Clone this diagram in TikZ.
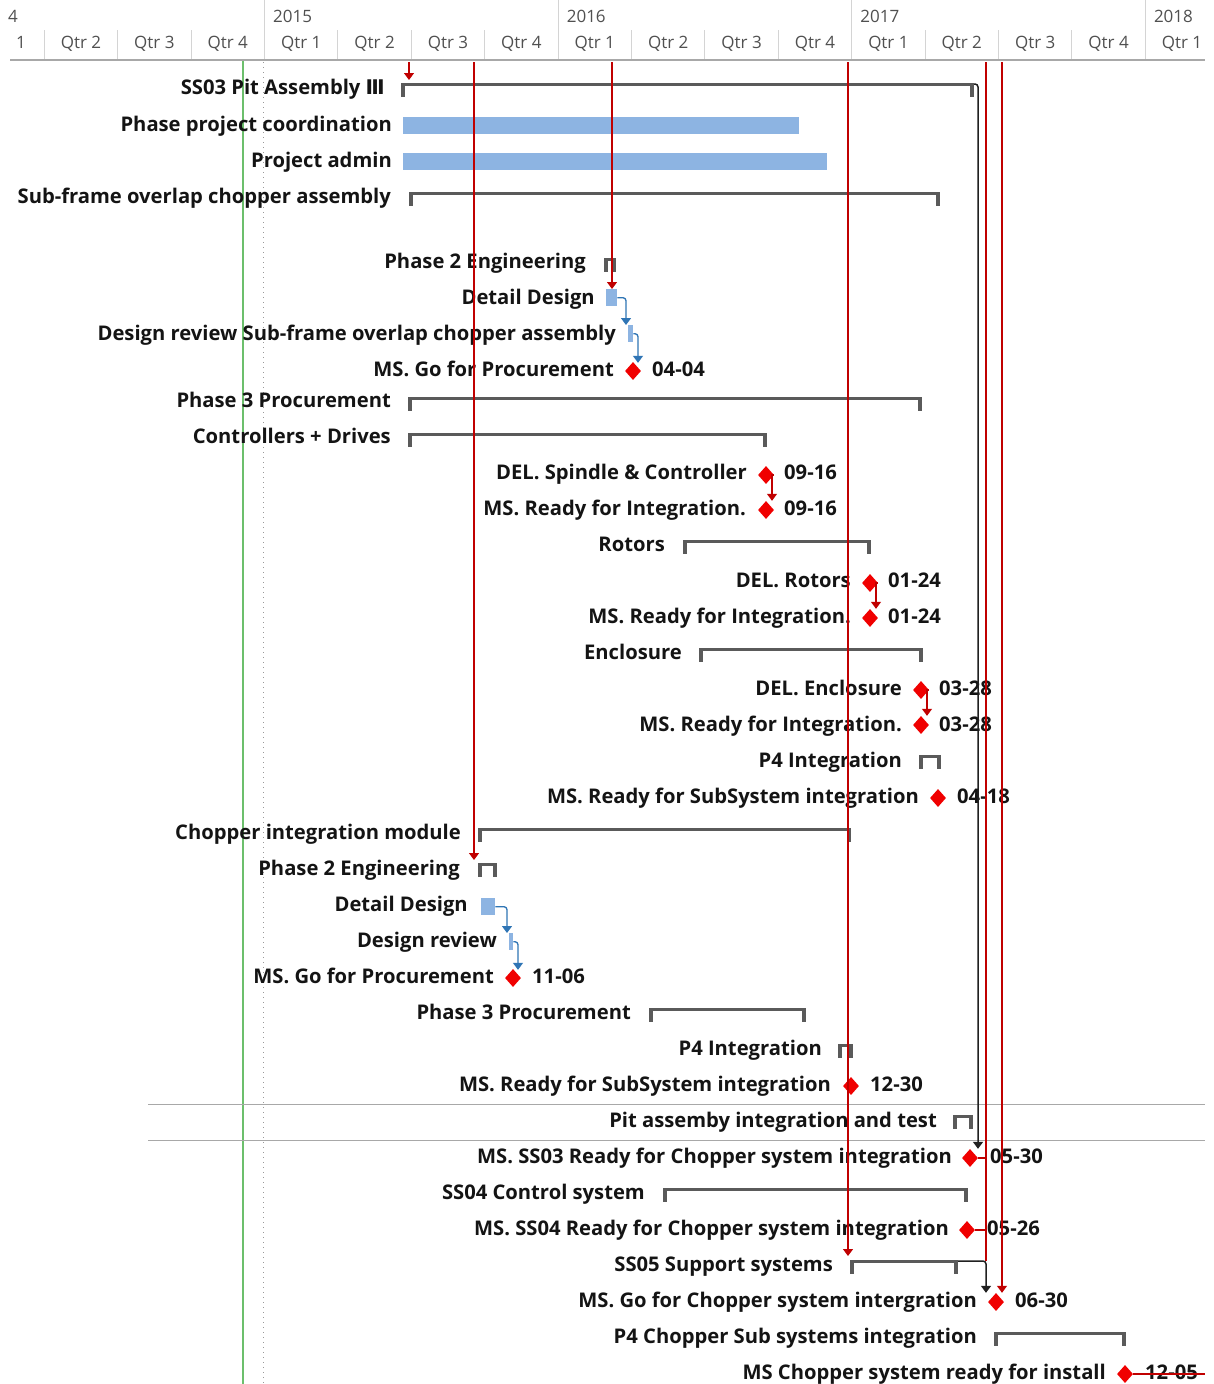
\documentclass[tikz,border=0pt]{standalone}
\usepackage{fontspec}
\setmainfont{Open Sans}
\newfontfamily\dejavu{DejaVu Sans}
\usetikzlibrary{arrows.meta,shapes.geometric,calc}

\definecolor{barblue}{HTML}{8DB4E2}
\definecolor{linkblue}{HTML}{2F75B5}
\definecolor{summarygray}{HTML}{5A5A5A}
\definecolor{critred}{HTML}{C00000}
\definecolor{msred}{HTML}{F00000}
\definecolor{gridgray}{HTML}{D4D4D4}
\definecolor{rulegray}{HTML}{A8A8A8}
\definecolor{headtxt}{HTML}{505050}
\definecolor{todaygreen}{HTML}{6CBF6C}
\definecolor{linkblack}{HTML}{202020}

% one label per task row, right-aligned against the bar
\newcommand\tasklabel[4]{\node[task] (#1) at (#2,#3+7) {#4};}
% finish date printed right of a milestone
\newcommand\datelabel[4]{\node[datetxt] (#1) at (#2,#3+7) {#4};}
% milestone diamond
\newcommand\milestone[3]{\node[ms] (#1) at (#2,#3) {};}
% plain task bar: name, x1, x2, top
\newcommand\taskbar[4]{\node[taskbox, minimum width={(#3-#2)*1pt}] (#1) at (#2,#4) {};}
% summary bracket: name, x1, x2, top
\newcommand\summarybar[4]{%
  \fill[summarygray] (#2,#4-1.5) rectangle (#3,#4+1.5);
  \fill[summarygray] (#2,#4-1.5) rectangle (#2+4,#4+13);
  \fill[summarygray] (#3-4,#4-1.5) rectangle (#3,#4+13);
  \coordinate (#1-l) at (#2,#4);
  \coordinate (#1-r) at (#3,#4);}

\begin{document}
\begin{tikzpicture}[x=1pt,y=-1pt,
  task/.style={anchor=base east, inner sep=0pt, text=black!92,
    font=\fontsize{20.2}{20}\selectfont\bfseries},
  datetxt/.style={anchor=base west, inner sep=0pt, text=black!92,
    font=\fontsize{20.2}{20}\selectfont\bfseries},
  ms/.style={diamond, fill=msred, minimum width=16pt, minimum height=18pt, inner sep=0pt},
  taskbox/.style={rectangle, anchor=north west, fill=barblue, inner sep=0pt, minimum height=17pt},
  crit/.style={critred, line width=1.2pt},
  critarrow/.style={crit, -{Triangle[width=10pt,length=7pt]}},
  bluearrow/.style={linkblue, line width=1.3pt, rounded corners=3pt, -{Triangle[width=10pt,length=7pt]}},
  blackarrow/.style={linkblack, line width=1.5pt, rounded corners=3pt, -{Triangle[width=10pt,length=7pt]}},
  headlbl/.style={inner sep=0pt, text=headtxt, font=\fontsize{17}{17}\selectfont},
]
\useasboundingbox (0,0) rectangle (1213,1384);
\fill[white] (0,0) rectangle (1213,1384);

% ---------- timescale ----------
\foreach \q in {-3,...,12} {
  \pgfmathtruncatemacro\qn{mod(\q+8,4)+1}
  \node[headlbl, anchor=base] at ({264.5+73.4*(\q+0.5)},48) {Qtr \qn};
}
% tail of the first quarter and year, running off the left edge
\node[headlbl, anchor=base west] at (16,48) {1};
\node[headlbl, anchor=base west] at (8,22) {4};
\foreach \q in {-3,-2,-1,1,2,3,5,6,7,9,10,11}
  \draw[gridgray, line width=1pt] ({264.5+73.4*\q},30) -- ({264.5+73.4*\q},60);
\foreach \y/\yr in {0/2015,1/2016,2/2017,3/2018} {
  \draw[gridgray, line width=1pt] ({264.5+293.6*\y},0) -- ({264.5+293.6*\y},60);
  \node[headlbl, anchor=base west] at ({273+293.6*\y},22) {\yr};
}
\draw[rulegray, line width=2pt] (10,60) -- (1205,60);

% status date and project start markers
\draw[todaygreen, line width=1.2pt] (243,61) -- (243,1384);
\draw[gray!80, line width=1pt, dash pattern=on 1pt off 4pt] (263,62) -- (263,1384);

% row separators around the selected task
\draw[rulegray, line width=1pt] (148,1104) -- (1205,1104);
\draw[rulegray, line width=1pt] (148,1140) -- (1205,1140);

% ---------- task labels ----------
\tasklabel{n1}{385}{87}{SS03 Pit Assembly {\dejavu\bfseries Ⅲ}}
\tasklabel{n2}{392}{124}{Phase project coordination}
\tasklabel{n3}{392}{160}{Project admin}
\tasklabel{n4}{391}{196}{Sub-frame overlap chopper assembly}
\tasklabel{n5}{586}{261}{Phase 2 Engineering}
\tasklabel{n6}{595}{297}{Detail Design}
\tasklabel{n7}{616}{333}{Design review Sub-frame overlap chopper assembly}
\tasklabel{n8}{614}{369}{MS. Go for Procurement}
\tasklabel{n9}{391}{400}{Phase 3 Procurement}
\tasklabel{n10}{391}{436}{Controllers + Drives}
\tasklabel{n11}{747}{472}{DEL. Spindle \& Controller}
\tasklabel{n12}{746}{508}{MS. Ready for Integration.}
\tasklabel{n13}{665}{544}{Rotors}
\tasklabel{n14}{851}{580}{DEL. Rotors}
\tasklabel{n15}{851}{616}{MS. Ready for Integration.}
\tasklabel{n16}{682}{652}{Enclosure}
\tasklabel{n17}{902}{688}{DEL. Enclosure}
\tasklabel{n18}{902}{724}{MS. Ready for Integration.}
\tasklabel{n19}{902}{760}{P4 Integration}
\tasklabel{n20}{919}{796}{MS. Ready for SubSystem integration}
\tasklabel{n21}{461}{832}{Chopper integration module}
\tasklabel{n22}{460}{868}{Phase 2 Engineering}
\tasklabel{n23}{468}{904}{Detail Design}
\tasklabel{n24}{497}{940}{Design review}
\tasklabel{n25}{494}{976}{MS. Go for Procurement}
\tasklabel{n26}{631}{1012}{Phase 3 Procurement}
\tasklabel{n27}{822}{1048}{P4 Integration}
\tasklabel{n28}{831}{1084}{MS. Ready for SubSystem integration}
\tasklabel{n29}{937}{1120}{Pit assemby integration and test}
\tasklabel{n30}{952}{1156}{MS. SS03 Ready for Chopper system integration}
\tasklabel{n31}{645}{1192}{SS04 Control system}
\tasklabel{n32}{949}{1228}{MS. SS04 Ready for Chopper system integration}
\tasklabel{n33}{833}{1264}{SS05 Support systems}
\tasklabel{n34}{977}{1300}{MS. Go for Chopper system intergration}
\tasklabel{n35}{977}{1336}{P4 Chopper Sub systems integration}
\tasklabel{n36}{1106}{1372}{MS Chopper system ready for install}

% ---------- bars ----------
\summarybar{br1}{401}{974}{84}
\taskbar{b2}{403}{799}{117}
\taskbar{b3}{403}{827}{153}
\summarybar{br4}{409}{940}{193}
\summarybar{br5}{604}{616}{259}
\taskbar{b6}{606}{617}{289}
\taskbar{b7}{628}{633}{325}
\summarybar{br9}{408}{922}{398}
\summarybar{br10}{408}{767}{434}
\summarybar{br13}{683}{871}{541}
\summarybar{br16}{699}{923}{649}
\summarybar{br19}{919}{941}{756}
\summarybar{br21}{478}{851}{829}
\summarybar{br22}{478}{497}{864}
\taskbar{b23}{481}{495}{898}
\taskbar{b24}{509}{513}{933}
\summarybar{br26}{649}{806}{1009}
\summarybar{br27}{838}{853}{1045}
\summarybar{br29}{953}{973}{1116}
\summarybar{br31}{663}{968}{1189}
\summarybar{br33}{850}{958}{1261}
\summarybar{br35}{994}{1126}{1333}

% ---------- milestones ----------
\milestone{m8}{633}{371}
\milestone{m11}{766}{475}
\milestone{m12}{766}{510}
\milestone{m14}{870}{583}
\milestone{m15}{870}{618}
\milestone{m17}{921}{690}
\milestone{m18}{921}{725}
\milestone{m20}{938}{798}
\milestone{m25}{513}{978}
\milestone{m28}{851}{1086}
\milestone{m30}{970}{1158}
\milestone{m32}{967}{1230}
\milestone{m34}{996}{1302}
\milestone{m36}{1125}{1374}

\datelabel{d8}{652}{369}{04-04}
\datelabel{d11}{784}{472}{09-16}
\datelabel{d12}{784}{508}{09-16}
\datelabel{d14}{888}{580}{01-24}
\datelabel{d15}{888}{616}{01-24}
\datelabel{d17}{939}{688}{03-28}
\datelabel{d18}{939}{724}{03-28}
\datelabel{d20}{957}{796}{04-18}
\datelabel{d25}{532}{976}{11-06}
\datelabel{d28}{870}{1084}{12-30}
\datelabel{d30}{990}{1156}{05-30}
\datelabel{d32}{987}{1228}{05-26}
\datelabel{d34}{1015}{1300}{06-30}
\datelabel{d36}{1145}{1372}{12-05}

% ---------- links ----------
% detail design -> review -> go for procurement
\draw[bluearrow] (b6.east) -| ($(b7.north west)+(-2,0)$);
\draw[bluearrow] (b7.east) -| ($(m8.north)+(5,1)$);
\draw[bluearrow] (b23.east) -| ($(b24.north west)+(-2,0)$);
\draw[bluearrow] (b24.east) -| ($(m25.north)+(5,1)$);

% deliveries -> ready for integration
\draw[critarrow] (m11.east) -| ($(m12.north)+(6,0)$);
\draw[critarrow] (m14.east) -| ($(m15.north)+(6,0)$);
\draw[critarrow] (m17.east) -| ($(m18.north)+(6,0)$);

% critical links entering from above
\coordinate (in0) at (409,62);
\coordinate (in1) at (474,62);
\coordinate (in2) at (612,62);
\coordinate (in3) at (848,62);
\coordinate (in4) at (986,62);
\coordinate (in5) at (1002,62);
\draw[critarrow, shorten >=4pt] (in0) -- (in0 |- br1-l);
\draw[critarrow, shorten >=4pt] (in1) -- (in1 |- br22-l);
\draw[critarrow] (in2) -- (in2 |- b6.north);
\draw[critarrow, shorten >=5pt] (in3) -- (in3 |- br33-l);
\draw[crit] (in4) -- (in4 |- br33-r);
\draw[crit] (m30.east) -- (m30.east -| in4);
\draw[crit] (m32.east) -- (m32.east -| in4);
\draw[critarrow] (in5) -- (in5 |- m34.north);

% summary finishes -> chopper milestones
\draw[blackarrow] (br1-r) -| ($(m30.north)+(8,0)$);
\draw[blackarrow] (br33-r) -| (in4 |- m34.north);

% successor outside the view
\coordinate (out36) at (1205,1374);
\draw[crit] (m36.east) -- (out36);
\end{tikzpicture}
\end{document}
